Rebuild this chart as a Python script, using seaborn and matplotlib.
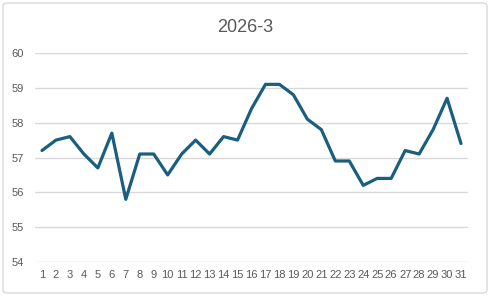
import matplotlib
matplotlib.use("Agg")
import matplotlib.pyplot as plt
import seaborn as sns
import pandas as pd
from matplotlib.patches import FancyBboxPatch

days = list(range(1, 32))
values = [57.2, 57.5, 57.6, 57.1, 56.7, 57.7, 55.8, 57.1, 57.1, 56.5,
          57.1, 57.5, 57.1, 57.6, 57.5, 58.4, 59.1, 59.1, 58.8, 58.1,
          57.8, 56.9, 56.9, 56.2, 56.4, 56.4, 57.2, 57.1, 57.8, 58.7, 57.4]
yticks = [54, 55, 56, 57, 58, 59, 60]
title = "2026-3"

df = pd.DataFrame({"day": days, "value": values})

sns.set_theme(style="white")
plt.rcParams['font.family'] = ['Liberation Sans', 'DejaVu Sans']

fig = plt.figure(figsize=(4.9, 2.96), dpi=100)
ax = fig.add_axes([35/490, 1-262/296, (468-35)/490, (262-53)/296])

sns.lineplot(data=df, x="day", y="value", ax=ax, color="#1a5e80", linewidth=2.3)

ax.set_xlim(0.5, 31.5)
ax.set_ylim(54, 60)
ax.set_yticks(yticks)
ax.set_xticks(days)
ax.set_xticklabels([str(d) for d in days])
ax.set_xlabel("")
ax.set_ylabel("")
ax.grid(axis="y", color="#d9d9d9", linewidth=1)
ax.set_axisbelow(True)
for s in ax.spines.values():
    s.set_visible(False)
ax.tick_params(axis="both", length=0, colors="#595959", labelsize=8)
ax.tick_params(axis="y", pad=8)
ax.tick_params(axis="x", pad=6)

fig.text(0.5, 1-27/296, title, ha="center", va="center", fontsize=13, color="#595959")

border = FancyBboxPatch((3/490, 3/296), 484/490, 290/296, boxstyle="round,pad=0,rounding_size=0.01",
                        transform=fig.transFigure, fill=False, edgecolor="#d9d9d9", linewidth=1)
fig.patches.append(border)

fig.savefig("out.png", dpi=100)
